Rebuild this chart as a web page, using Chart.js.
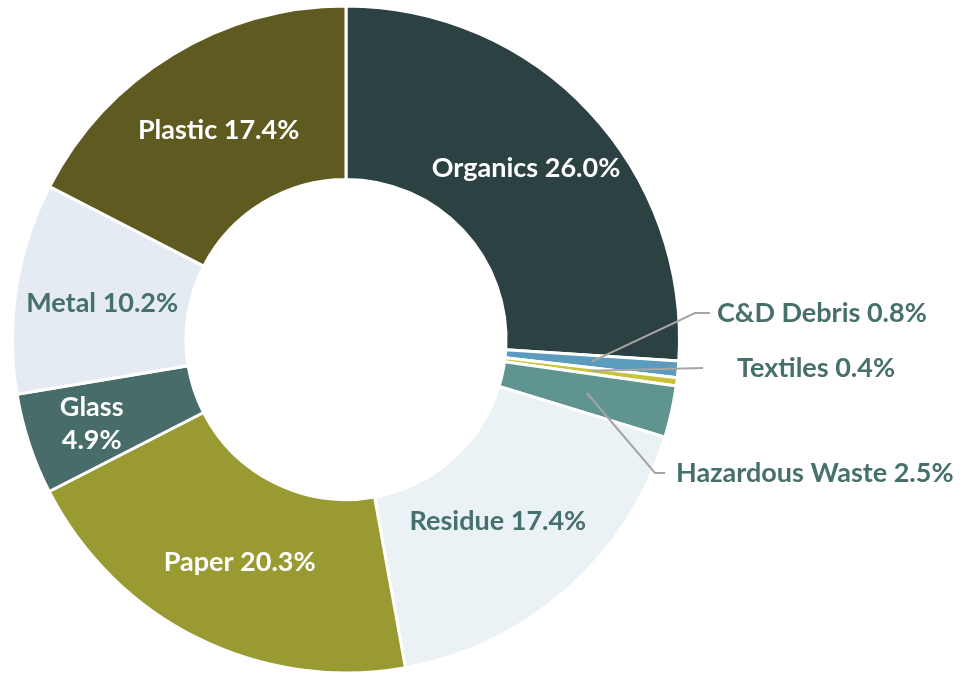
<!DOCTYPE html>
<html>
<head>
<meta charset="utf-8">
<script src="https://cdn.jsdelivr.net/npm/chart.js@4/dist/chart.umd.min.js"></script>
<style>
    html, body { margin: 0; padding: 0; background: #ffffff; }
    #wrap { width: 975px; height: 675px; position: relative; }
</style>
</head>
<body>
<div id="wrap"><canvas id="pieChart" width="975" height="675"></canvas></div>
<script>
// Waste composition data (clockwise from top)
const categories = ["Organics", "C&D Debris", "Textiles", "Hazardous Waste", "Residue", "Paper", "Glass", "Metal", "Plastic"];
const shares = [26.0, 0.8, 0.4, 2.5, 17.4, 20.3, 4.9, 10.2, 17.4];

const sliceColors = ["#2C4142", "#5B9BBE", "#C8C43A", "#5F9490", "#EAF2F5", "#9A9A33", "#476C6A", "#E4EBF3", "#5E5A20"];
const textColors = ["#ffffff", "#46706B", "#46706B", "#46706B", "#46706B", "#ffffff", "#ffffff", "#46706B", "#ffffff"];

// label placement: inside labels get a small nudge, outside ones get a leader line
const labelNudge = [[0, -2], null, null, null, [-12, -3], [3, 2], [-20, 6], [0, 2], [1, 2]];
const outsideLabels = {
    1: { elbow: [695, 313], end: [710, 313], text: [717, 313] },
    2: { elbow: [703, 368], end: [703, 368], text: [737, 368] },
    3: { elbow: [655, 473], end: [665, 473], text: [676, 473] }
};

const labelFont = "bold 27px Lato, 'Open Sans', sans-serif";

const labelPlugin = {
    id: "sliceLabels",
    afterDatasetsDraw(chart) {
        const ctx = chart.ctx;
        const arcs = chart.getDatasetMeta(0).data;
        ctx.save();
        ctx.font = labelFont;
        ctx.textBaseline = "middle";
        arcs.forEach((arc, i) => {
            const txt = categories[i] + " " + shares[i].toFixed(1) + "%";
            const mid = arc.tooltipPosition();
            ctx.fillStyle = textColors[i];
            if (outsideLabels[i]) {
                const o = outsideLabels[i];
                ctx.strokeStyle = "#A5A5A5";
                ctx.lineWidth = 2;
                ctx.beginPath();
                ctx.moveTo(mid.x, mid.y);
                ctx.lineTo(o.elbow[0], o.elbow[1]);
                ctx.lineTo(o.end[0], o.end[1]);
                ctx.stroke();
                ctx.textAlign = "left";
                ctx.fillText(txt, o.text[0], o.text[1]);
                return;
            }
            const n = labelNudge[i] || [0, 0];
            ctx.textAlign = "center";
            if (categories[i] === "Glass") {
                ctx.fillText(categories[i], mid.x + n[0], mid.y + n[1] - 16);
                ctx.fillText(shares[i].toFixed(1) + "%", mid.x + n[0], mid.y + n[1] + 17);
            } else {
                ctx.fillText(txt, mid.x + n[0], mid.y + n[1]);
            }
        });
        ctx.restore();
    }
};

const ctx = document.getElementById("pieChart").getContext("2d");
new Chart(ctx, {
    type: "doughnut",
    data: {
        labels: categories,
        datasets: [{
            data: shares,
            backgroundColor: sliceColors,
            borderColor: "#ffffff",
            borderWidth: 3
        }]
    },
    options: {
        responsive: false,
        animation: false,
        cutout: "48%",
        layout: { padding: { left: 11, right: 294, top: 4, bottom: 0 } },
        plugins: {
            legend: { display: false },
            tooltip: { enabled: false }
        }
    },
    plugins: [labelPlugin]
});
</script>
</body>
</html>
